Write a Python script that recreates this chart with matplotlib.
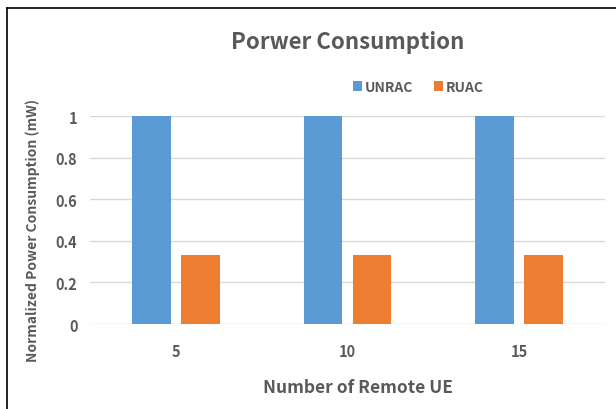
import numpy as np
import matplotlib.pyplot as plt
from matplotlib.lines import Line2D

categories = ["5", "10", "15"]
unrac = [1.0, 1.0, 1.0]
ruac = [0.33, 0.33, 0.33]
yticks = [0, 0.2, 0.4, 0.6, 0.8, 1]

plt.rcParams['font.family'] = ['Noto Sans CJK KR', 'DejaVu Sans']
grey = "#595959"

W, H = 616, 410
fig = plt.figure(figsize=(W / 100, H / 100), dpi=100)
ax = fig.add_axes([90 / W, 1 - 325 / H, 515 / W, 208 / H])

x = np.arange(len(categories))
bw = 0.225
ax.bar(x - 0.143, unrac, bw, color="#5b9bd5", label="UNRAC", zorder=3)
ax.bar(x + 0.143, ruac, bw, color="#ed7d31", label="RUAC", zorder=3)

ax.set_xlim(-0.5, 2.5)
ax.set_ylim(0, 1)
ax.set_yticks(yticks)
ax.set_yticklabels(["0", "0.2", "0.4", "0.6", "0.8", "1"])
ax.set_xticks(x)
ax.set_xticklabels(categories)
ax.yaxis.grid(True, color="#d9d9d9", linewidth=1, zorder=0)
for s in ax.spines.values():
    s.set_visible(False)
ax.tick_params(length=0, colors=grey, labelsize=10.5)
ax.tick_params(axis="y", pad=9)
ax.tick_params(axis="x", pad=14)
for t in ax.get_xticklabels() + ax.get_yticklabels():
    t.set_fontweight("bold")

fig.text(348 / W, 1 - 42 / H, "Porwer Consumption", ha="center", va="center",
         fontsize=16, fontweight="bold", color=grey)
fig.text(358 / W, 1 - 388 / H, "Number of Remote UE", ha="center", va="center",
         fontsize=12.5, fontweight="bold", color=grey)
fig.text(33 / W, 1 - 230 / H, "Normalized Power Consumption (mW)", ha="center",
         va="center", rotation=90, fontsize=10, fontweight="bold", color=grey)

leg = fig.legend(loc="center", bbox_to_anchor=(418 / W, 1 - 88 / H), ncol=2,
                 frameon=False, handlelength=0.65, handleheight=0.65,
                 columnspacing=1.5, handletextpad=0.2,
                 prop={"weight": "bold", "size": 10})
for t in leg.get_texts():
    t.set_color(grey)

fig.add_artist(Line2D([6.5 / W, 6.5 / W], [0, 1 - 9 / H], color="black", linewidth=1.2))
fig.add_artist(Line2D([6.5 / W, 1], [1 - 9 / H, 1 - 9 / H], color="black", linewidth=1.2))

fig.savefig("out.png", dpi=100)
